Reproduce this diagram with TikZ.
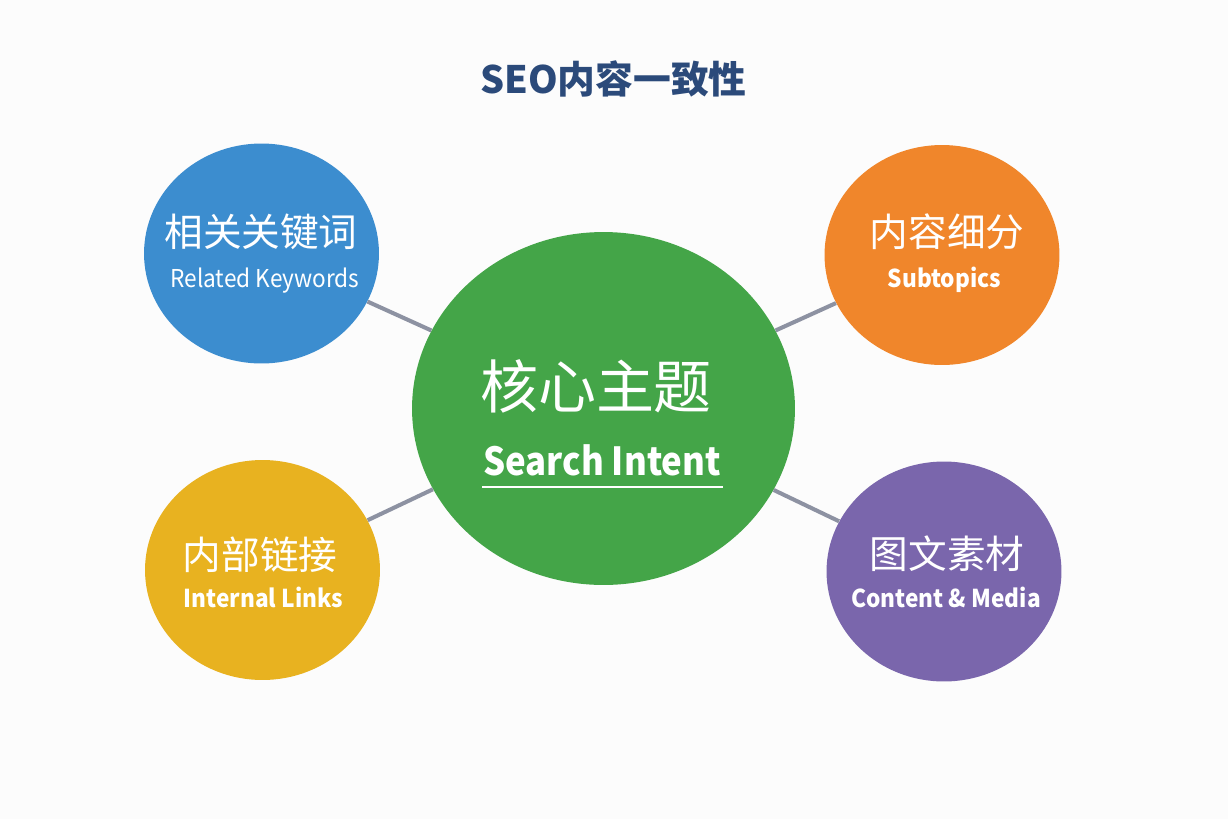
\documentclass[tikz,border=0pt]{standalone}
\usepackage{fontspec}
\setmainfont{Noto Sans CJK SC}
\usetikzlibrary{positioning, shapes.geometric}

\definecolor{titleblue}{HTML}{2B4A7A}
\definecolor{kwblue}{HTML}{3C8DCF}
\definecolor{suborange}{HTML}{F0862B}
\definecolor{linkyellow}{HTML}{E8B220}
\definecolor{mediapurple}{HTML}{7A66AC}
\definecolor{coregreen}{HTML}{44A548}
\definecolor{linkgray}{HTML}{8D92A2}

% narrower latin lines
\newcommand{\squeeze}[2][0.92]{\scalebox{#1}[1]{#2}}

\begin{document}
\begin{tikzpicture}[x=0.02cm, y=-0.02cm,
    bubble/.style={ellipse, minimum width=4.7cm, minimum height=4.4cm, inner sep=0pt},
    zh/.style={text=white, inner sep=0pt, font=\fontsize{22}{26}\selectfont},
    en/.style={text=white, inner sep=0pt, anchor=base, font=\fontsize{14}{17}\selectfont},
    link/.style={draw=linkgray, line width=2.3pt}]

    % page
    \fill[white!99!black] (0,0) rectangle (1228,819);
    \useasboundingbox (0,0) rectangle (1228,819);

    \node[text=titleblue, font=\fontsize{21.5}{26}\selectfont\bfseries] (title) at (613.5,78.5) {SEO内容一致性};

    % core topic
    \node[ellipse, fill=coregreen, minimum width=7.66cm, minimum height=7.06cm, inner sep=0pt] (core) at (603.5,408.5) {};
    \node[zh, font=\fontsize{33}{38}\selectfont] (corezh) at (596,386) {核心主题};
    \node[en, font=\fontsize{22}{26}\selectfont\bfseries] (coreen) at (602,475) {\squeeze[0.9]{Search Intent}};
    \draw[white, line width=1.1pt] (482,487) -- (723,487);

    % satellites
    \node[bubble, fill=kwblue] (kw) at (261.5,253.5) {};
    \node[zh] (kwzh) at (261,231.5) {相关关键词};
    \node[en] (kwen) at (265,287) {\squeeze{Related Keywords}};

    \node[bubble, fill=suborange] (sub) at (942,255) {};
    \node[zh] (subzh) at (947,231.5) {内容细分};
    \node[en, font=\fontsize{14}{17}\selectfont\bfseries] (suben) at (944.5,287) {\squeeze{Subtopics}};

    \node[bubble, fill=linkyellow] (links) at (262.5,570) {};
    \node[zh] (linkszh) at (260,555) {内部链接};
    \node[en, font=\fontsize{14}{17}\selectfont\bfseries] (linksen) at (263.5,607) {\squeeze{Internal Links}};

    \node[bubble, fill=mediapurple] (media) at (944,571.5) {};
    \node[zh] (mediazh) at (947,553.5) {图文素材};
    \node[en, font=\fontsize{14}{17}\selectfont\bfseries] (mediaen) at (946,607) {\squeeze{Content \& Media}};

    % connectors
    \draw[link] (kw) -- (core);
    \draw[link] (sub) -- (core);
    \draw[link] (links) -- (core);
    \draw[link] (media) -- (core);
\end{tikzpicture}
\end{document}
